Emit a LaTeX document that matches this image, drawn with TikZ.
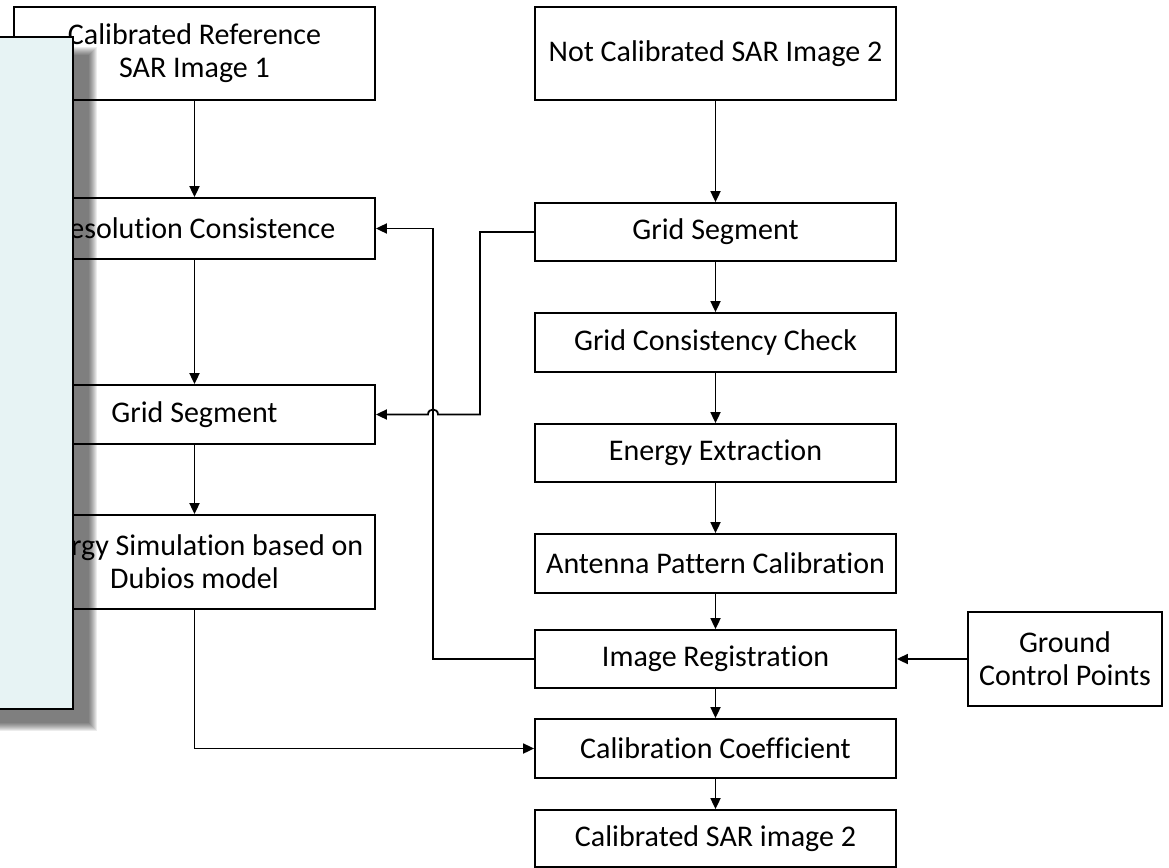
\documentclass[tikz,border=0pt]{standalone}
\usepackage{fontspec}
\setmainfont{Carlito}[Ligatures=NoCommon]
\usetikzlibrary{arrows.meta}
\definecolor{panelfill}{HTML}{E7F3F4}
\tikzset{
  box/.style={draw=black, line width=1.8pt, fill=white, align=center, inner sep=0pt,
    font=\fontsize{30}{33}\selectfont},
  lbox/.style={box, minimum width=361pt},
  conn/.style={line width=1.8pt, draw=black, -{Triangle[length=11pt,width=10pt]}},
}
\begin{document}
\begin{tikzpicture}[x=1pt,y=-1pt]
\useasboundingbox (0,0) rectangle (1169,867);
% left column
\node[lbox, minimum height=93pt] (ref) at (194.5,53.5) {Calibrated Reference\\SAR Image 1};
\node[lbox, minimum height=61pt] (res) at (194.5,228.5) {Resolution Consistence};
\node[lbox, minimum height=59pt] (lgs) at (194.5,414.5) {Grid Segment};
\node[lbox, minimum height=94pt] (sim) at (194.5,562) {Energy Simulation based on\\Dubios model};
% right column
\node[lbox, minimum height=93pt] (nc) at (715.5,53.5) {Not Calibrated SAR Image 2};
\node[lbox, minimum height=58pt] (rgs) at (715.5,232) {Grid Segment};
\node[lbox, minimum height=59pt] (gcc) at (715.5,342.5) {Grid Consistency Check};
\node[lbox, minimum height=58pt] (ee) at (715.5,453) {Energy Extraction};
\node[lbox, minimum height=59pt] (apc) at (715.5,563.5) {Antenna Pattern Calibration};
\node[lbox, minimum height=58pt] (ir) at (715.5,659) {Image Registration};
\node[lbox, minimum height=59pt] (cc) at (715.5,748.5) {Calibration Coefficient};
\node[lbox, minimum height=57pt] (out) at (715.5,838.5) {Calibrated SAR image 2};
\node[box, minimum width=194pt, minimum height=94pt] (gcp) at (1065,659) {Ground\\Control Points};
% vertical connectors
\draw[conn] (ref) -- (res);
\draw[conn] (res) -- (lgs);
\draw[conn] (lgs) -- (sim);
\draw[conn] (nc) -- (rgs);
\draw[conn] (rgs) -- (gcc);
\draw[conn] (gcc) -- (ee);
\draw[conn] (ee) -- (apc);
\draw[conn] (apc) -- (ir);
\draw[conn] (ir) -- (cc);
\draw[conn] (cc) -- (out);
\draw[conn] (gcp) -- (ir);
% routed connectors
\coordinate (a1) at (480,232);
\coordinate (a2) at (480,414.5);
\coordinate (h1) at (438,414.5);
\coordinate (h2) at (428,414.5);
\draw[conn] (rgs.west) -- (a1) -- (a2) -- (h1) .. controls (438,407.8) and (428,407.8) .. (h2) -- (lgs.east);
\coordinate (b1) at (433,659);
\coordinate (b2) at (433,228.5);
\draw[conn] (ir.west) -- (b1) -- (b2) -- (res.east);
\coordinate (c1) at (194.5,748.5);
\draw[conn] (sim.south) -- (c1) -- (cc.west);
% shadow of the side panel
\foreach \i in {-4,...,4}{
  \fill[black, fill opacity=0.075] (0,{51-\i}) rectangle ({93+\i},{727+\i});
}
% side panel
\draw[line width=1.8pt, fill=panelfill] (-5,37) rectangle (73,709);
\end{tikzpicture}
\end{document}
